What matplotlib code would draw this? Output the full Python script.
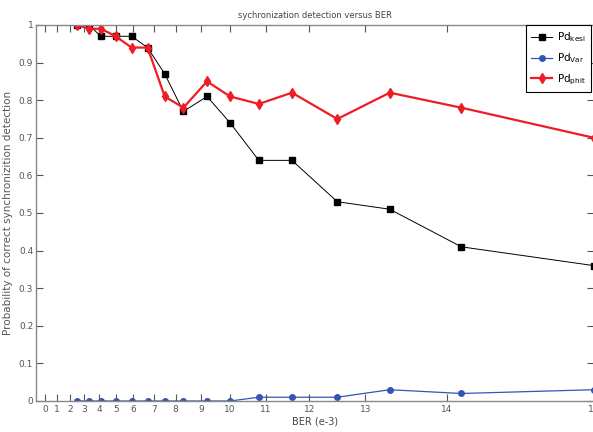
import numpy as np
import matplotlib
matplotlib.use("Agg")
import matplotlib.pyplot as plt

plt.rcParams['font.family'] = ['Liberation Sans Narrow', 'DejaVu Sans']
plt.rcParams['mathtext.fontset'] = 'custom'
plt.rcParams['mathtext.rm'] = 'Liberation Sans Narrow'

# data
ber = [2.5, 3.3, 4.1, 5.0, 5.9, 6.7, 7.5, 8.3, 9.2, 10.0, 10.8, 11.6, 12.5, 13.3, 14.1, 15.0]
pd_kesi = [1.0, 1.0, 0.97, 0.97, 0.97, 0.94, 0.87, 0.77, 0.81, 0.74, 0.64, 0.64, 0.53, 0.51, 0.41, 0.36]
pd_var = [0, 0, 0, 0, 0, 0, 0, 0, 0, 0, 0.01, 0.01, 0.01, 0.03, 0.02, 0.03]
pd_phit = [1.0, 0.99, 0.99, 0.97, 0.94, 0.94, 0.81, 0.78, 0.85, 0.81, 0.79, 0.82, 0.75, 0.82, 0.78, 0.70]
xticks = list(range(0, 16))
yticks = [0, 0.1, 0.2, 0.3, 0.4, 0.5, 0.6, 0.7, 0.8, 0.9, 1]
ytick_labels = ['0', '0.1', '0.2', '0.3', '0.4', '0.5', '0.6', '0.7', '0.8', '0.9', '1']

# the x axis in the original is not linear: tick spacing grows to the right
scale_ber = [-0.75, 0, 1, 2, 3, 4, 5, 6, 7, 8, 9, 10, 11, 12, 13, 14, 15]
scale_pos = [36, 45, 57.3, 70, 84.3, 99.3, 115.7, 133.3, 153.7, 175.7, 201.3, 230, 266, 309.3, 365.3, 446.7, 594]

def fwd(x):
    return np.interp(x, scale_ber, scale_pos)

def inv(p):
    return np.interp(p, scale_pos, scale_ber)

fig = plt.figure(figsize=(5.93, 4.32), dpi=100)
ax = fig.add_axes([36/593, 31/432, 558/593, 376/432])
ax.set_xscale('function', functions=(fwd, inv))

ax.plot(ber, pd_kesi, color='black', lw=0.7, marker='s', ms=4.5, label=r'Pd$_{\mathrm{kesi}}$')
ax.plot(ber, pd_var, color='#3355b5', lw=0.9, marker='o', ms=4, label=r'Pd$_{\mathrm{Var}}$')
ax.plot(ber, pd_phit, color='#ee1c24', lw=1.6, marker='d', ms=5.5, label=r'Pd$_{\mathrm{phit}}$')

ax.set_xlim(-0.75, 15)
ax.set_ylim(0, 1)
ax.set_xticks(xticks)
ax.set_xticklabels([str(t) for t in xticks])
ax.set_yticks(yticks)
ax.set_yticklabels(ytick_labels)
ax.tick_params(direction='in', length=5, width=0.8, colors='#555555', labelsize=6.5,
               top=True, right=True)
ax.tick_params(axis='x', pad=3)
ax.tick_params(axis='y', pad=2)
for s in ax.spines.values():
    s.set_color('#888888')
    s.set_linewidth(1.0)

ax.set_title('sychronization detection versus BER', fontsize=6, color='#444444', pad=5)
ax.set_xlabel('BER (e-3)', fontsize=7, color='#444444', labelpad=2)
ax.set_ylabel('Probability of correct synchronizition detection', fontsize=7.5, color='#555555', labelpad=4)

leg = ax.legend(loc='upper right', fontsize=7.5, frameon=True, fancybox=False, framealpha=1,
                bbox_to_anchor=(0.995, 1.0), borderaxespad=0.0, handlelength=2.0,
                labelspacing=0.7, borderpad=0.5, handletextpad=0.5)
leg.get_frame().set_edgecolor('black')
leg.get_frame().set_linewidth(0.8)

fig.savefig('out.png', dpi=100)
